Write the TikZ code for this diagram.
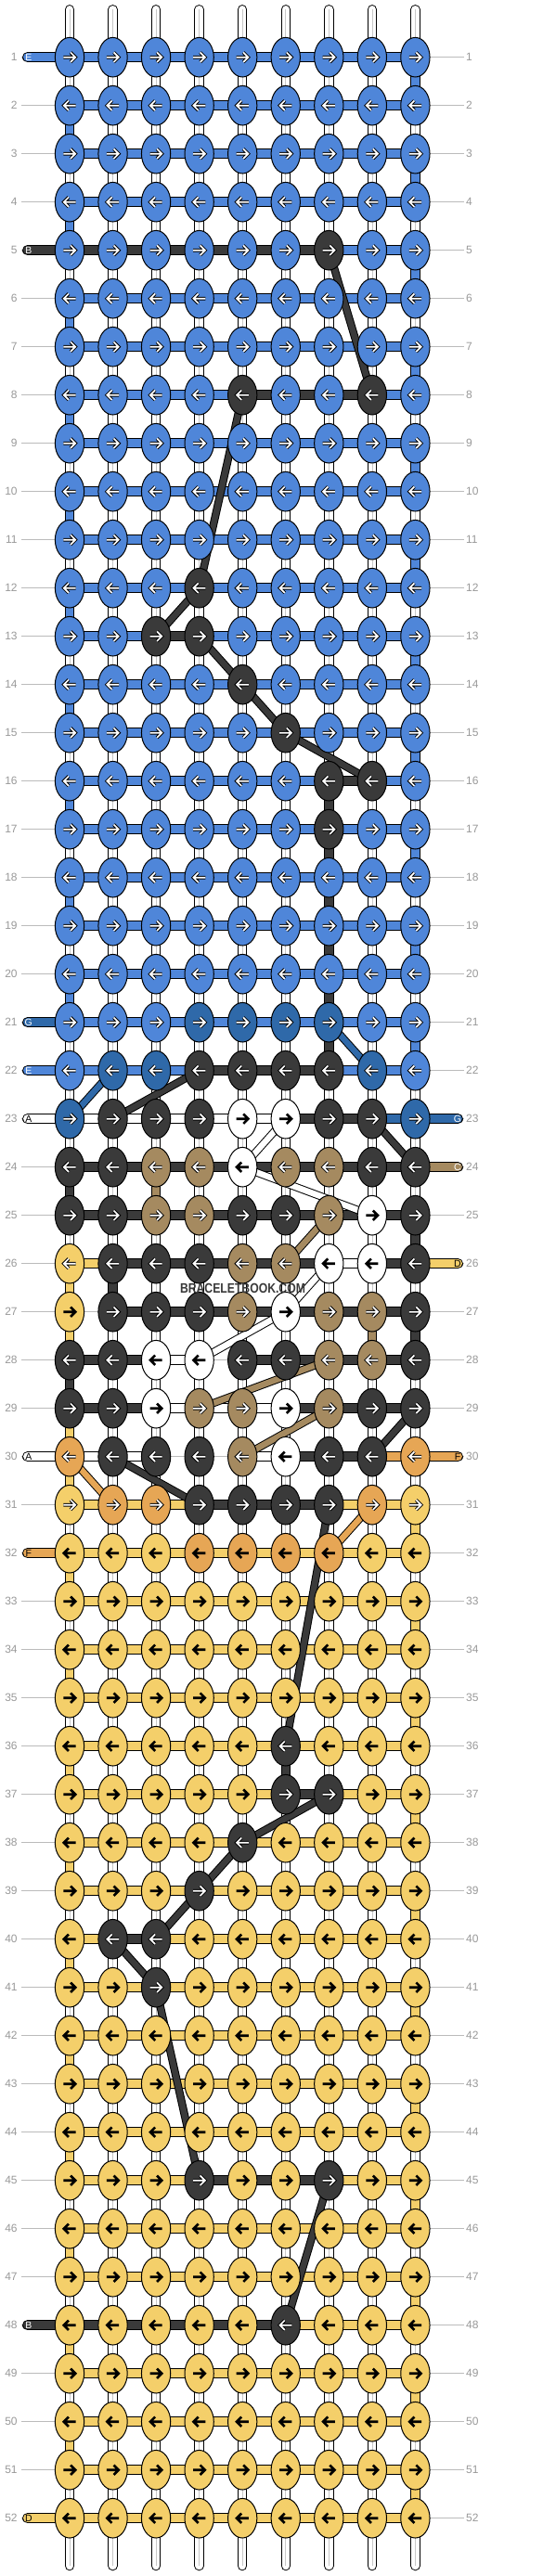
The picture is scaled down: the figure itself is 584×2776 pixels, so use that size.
\documentclass[tikz,border=0pt]{standalone}
\usepackage{fontspec}
\setmainfont{Liberation Sans}
\usetikzlibrary{shapes.geometric}

\definecolor{cL}{HTML}{4F86D9}
\definecolor{cG}{HTML}{2F69A9}
\definecolor{cK}{HTML}{3A3A3A}
\definecolor{cW}{HTML}{FFFFFF}
\definecolor{cN}{HTML}{A58A60}
\definecolor{cY}{HTML}{F4CF6A}
\definecolor{cO}{HTML}{E6A655}
\colorlet{cy}{cY}
\colorlet{co}{cO}
\definecolor{rowgray}{HTML}{BBBBBB}
\definecolor{numgray}{HTML}{999999}

\newcommand\setkc[3]{\expandafter\xdef\csname kc-#1-#2\endcsname{#3}}
\newcommand\setsc[3]{\expandafter\xdef\csname sc-#1-#2\endcsname{#3}}
\def\atL{w}\def\atG{w}\def\atK{w}\def\atN{w}\def\atO{w}\def\atW{b}\def\atY{b}\def\aty{w}\def\ato{b}

\tikzset{
  knot/.style={ellipse, draw=black, line width=1pt, minimum width=31.3pt, minimum height=42.6pt, inner sep=0pt},
  strand/.style={draw=black, line width=1pt, double distance=9.3pt},
  vstrand/.style={draw=black, line width=1pt, double distance=8.5pt},
  dstrand/.style={draw=black, line width=1pt, double distance=6.5pt},
  centerline/.style={draw=black!22, line width=0.7pt},
  rowline/.style={draw=rowgray, line width=1pt},
  numL/.style={anchor=east, text=numgray, inner sep=0pt, font=\fontsize{12}{12}\selectfont},
  numR/.style={anchor=west, text=numgray, inner sep=0pt, font=\fontsize{12}{12}\selectfont},
  lab/.style={inner sep=0pt, font=\fontsize{10.5}{10.5}\selectfont},
  olw/.style={draw=black, line width=3.6pt},
  inw/.style={draw=white, line width=1.7pt},
  olb/.style={draw=black, line width=2.6pt}
}

\begin{document}
\begin{tikzpicture}[x=1pt,y=-1pt]
\useasboundingbox (0,0) rectangle (584,2776);
\fill[white] (0,0) rectangle (584,2776);

% ---------- data: knot colours ----------
\foreach \rr/\lst in {21/{L,L,L,G,G,G,G,L,L}, 22/{L,G,G,K,K,K,K,G,L}, 23/{G,K,K,K,W,W,K,K,G},
  24/{K,K,N,N,W,N,N,K,K}, 25/{K,K,N,N,K,K,N,W,K}, 26/{y,K,K,K,N,N,W,W,K},
  27/{Y,K,K,K,N,W,N,N,K}, 28/{K,K,W,W,K,K,N,N,K}, 29/{K,K,W,N,N,W,N,K,K},
  30/{O,K,K,K,N,W,K,K,O}, 31/{y,O,O,K,K,K,K,O,y}, 32/{Y,Y,Y,o,o,o,o,Y,Y}}{
  \foreach \vv [count=\cc] in \lst {\setkc{\rr}{\cc}{\vv}}
}
\foreach \rr/\cc in {5/7, 8/5, 8/8, 12/4, 13/3, 13/4, 14/5, 15/6, 16/7, 16/8, 17/7,
  36/6, 37/6, 37/7, 38/5, 39/4, 40/2, 40/3, 41/3, 45/4, 45/7, 48/6}{\setkc{\rr}{\cc}{K}}

% ---------- data: horizontal segment colours (X = none) ----------
\foreach \rr/\lst in {21/{L,L,L,L,L,L,L,L}, 22/{L,L,L,K,K,K,L,L}, 23/{W,W,W,W,W,K,K,G},
  24/{K,K,K,K,K,K,K,K}, 25/{K,K,K,K,K,K,K,K}, 26/{Y,K,K,K,K,K,W,K},
  27/{X,K,K,K,K,K,K,K}, 28/{K,K,W,X,K,K,K,K}, 29/{K,K,W,W,W,K,K,K},
  30/{W,W,X,X,W,K,K,O}, 31/{Y,Y,Y,K,K,K,Y,Y}, 32/{Y,Y,Y,Y,Y,Y,Y,Y}}{
  \foreach \vv [count=\cc] in \lst {\setsc{\rr}{\cc}{\vv}}
}
\foreach \rr/\cc in {5/1,5/2,5/3,5/4,5/5,5/6,8/5,8/6,8/7,13/3,16/7,37/6,40/2,
  45/4,45/5,45/6,48/1,48/2,48/3,48/4,48/5}{\setsc{\rr}{\cc}{K}}

% ---------- coordinates ----------
\foreach \rr in {1,...,52}{\foreach \cc in {1,...,9}{
  \coordinate (p\rr-\cc) at ({75+46.55*(\cc-1)},{61.7+52*(\rr-1)});}}
\coordinate (xgl) at (23,0);
\coordinate (xgr) at (500,0);
\coordinate (xnl) at (18.8,0);
\coordinate (xnr) at (502,0);
\coordinate (lx) at (29.7,0);
\coordinate (rx) at (493.3,0);
\coordinate (xll) at (30.8,0);
\coordinate (xlr) at (493,0);

% ---------- row lines and numbers ----------
\foreach \rr in {1,...,52}{
  \draw[rowline] (p\rr-1 -| xgl) -- (p\rr-1 -| xgr);
  \node[numL] (nl\rr) at (p\rr-1 -| xnl) {\rr};
  \node[numR] (nr\rr) at (p\rr-1 -| xnr) {\rr};
}

% ---------- vertical white strings ----------
\foreach \cc in {1,...,9}{
  \pgfmathsetmacro\xx{75+46.55*(\cc-1)}
  \coordinate (top\cc) at (\xx,10.3);
  \coordinate (bot\cc) at (\xx,2765);
  \draw[vstrand, double=white, line cap=round] (top\cc) -- (bot\cc);
  \draw[centerline] (top\cc) -- (bot\cc);
}

% ---------- horizontal segments ----------
\foreach \rr in {1,...,52}{\foreach \cc in {1,...,8}{
  \ifnum\rr<21\relax\def\segc{L}\else\def\segc{Y}\fi
  \ifcsname sc-\rr-\cc\endcsname\edef\segc{\csname sc-\rr-\cc\endcsname}\fi
  \pgfmathtruncatemacro\cn{\cc+1}
  \if X\segc\else\draw[strand, double=c\segc] (p\rr-\cc) -- (p\rr-\cn);\fi
}}

% ---------- end stubs ----------
\foreach \rr/\segc/\lbl/\lc in {1/L/E/white, 5/K/B/white, 21/G/G/white, 22/L/E/white,
  23/W/A/black, 30/W/A/black, 32/O/F/black, 48/K/B/white, 52/Y/D/black}{
  \draw[strand, double=c\segc, line cap=round] (p\rr-1 -| lx) -- (p\rr-1);
  \node[lab, text=\lc] (sl\rr) at (p\rr-1 -| xll) {\lbl};
}
\foreach \rr/\segc/\lbl/\lc in {23/G/G/white, 24/N/C/white, 26/Y/D/black, 30/O/F/black}{
  \draw[strand, double=c\segc, line cap=round] (p\rr-9) -- (p\rr-9 -| rx);
  \node[lab, text=\lc] (sr\rr) at (p\rr-9 -| xlr) {\lbl};
}

% ---------- coloured vertical connectors ----------
\foreach \rr in {1,...,21}{
  \ifodd\rr\relax\def\cc{9}\else\def\cc{1}\fi
  \pgfmathtruncatemacro\rn{\rr+1}
  \draw[vstrand, double=cL] (p\rr-\cc) -- (p\rn-\cc);
}
\foreach \rr in {30,...,51}{
  \ifodd\rr\relax\def\cc{9}\else\def\cc{1}\fi
  \pgfmathtruncatemacro\rn{\rr+1}
  \draw[vstrand, double=cY] (p\rr-\cc) -- (p\rn-\cc);
}
\foreach \rr/\cc/\vc in {24/1/K, 25/9/K, 26/1/Y, 27/9/K, 28/1/K, 27/1/Y, 29/1/Y,
  24/3/N, 26/2/K, 27/8/N, 36/6/K, 16/7/K, 17/7/K, 18/7/K, 19/7/K, 20/7/K, 21/7/K}{
  \pgfmathtruncatemacro\rn{\rr+1}
  \draw[vstrand, double=c\vc] (p\rr-\cc) -- (p\rn-\cc);
}

% ---------- diagonal strands ----------
\foreach \ra/\ca/\rb/\cb/\dc in {5/7/8/8/K, 8/5/12/4/K, 12/4/13/3/K, 13/4/14/5/K, 14/5/15/6/K,
  15/6/16/8/K, 22/4/23/2/K, 23/8/24/9/K, 29/9/30/8/K, 30/2/31/4/K, 31/7/36/6/K,
  37/7/38/5/K, 38/5/39/4/K, 39/4/40/3/K, 40/2/41/3/K, 41/3/45/4/K, 45/7/48/6/K,
  21/7/22/8/G, 22/2/23/1/G, 25/7/26/6/N, 28/7/29/4/N, 29/7/30/5/N,
  30/1/31/2/O, 31/8/32/7/O, 23/6/24/5/W, 24/5/25/8/W, 26/7/27/6/W, 27/6/28/4/W}{
  \draw[dstrand, double=c\dc] (p\ra-\ca) -- (p\rb-\cb);
}

% ---------- knots ----------
\foreach \rr in {1,...,52}{\foreach \cc in {1,...,9}{
  \ifnum\rr<21\relax\def\knc{L}\else\def\knc{Y}\fi
  \ifcsname kc-\rr-\cc\endcsname\edef\knc{\csname kc-\rr-\cc\endcsname}\fi
  \node[knot, fill=c\knc] (k\rr-\cc) at (p\rr-\cc) {};
  \edef\arrtype{\csname at\knc\endcsname}
  \ifodd\rr\relax\def\adir{1}\else\def\adir{-1}\fi
  \begin{scope}[shift={(p\rr-\cc)}, xscale=\adir]
    \if w\arrtype
      \draw[olw] (-6.6,0) -- (5.2,0) (1.0,-5.2) -- (6.2,0) -- (1.0,5.2);
      \draw[inw] (-6.6,0) -- (5.2,0) (1.0,-5.2) -- (6.2,0) -- (1.0,5.2);
    \else
      \draw[olb] (-6.6,0) -- (5.2,0) (1.0,-5.2) -- (6.2,0) -- (1.0,5.2);
    \fi
  \end{scope}
}}

% ---------- watermark ----------
\node[font=\fontsize{14.7}{15}\selectfont\bfseries, text=cK, xscale=0.83, inner sep=0pt] (wm) at (261.5,1388) {BRACELETBOOK.COM};
\end{tikzpicture}
\end{document}
